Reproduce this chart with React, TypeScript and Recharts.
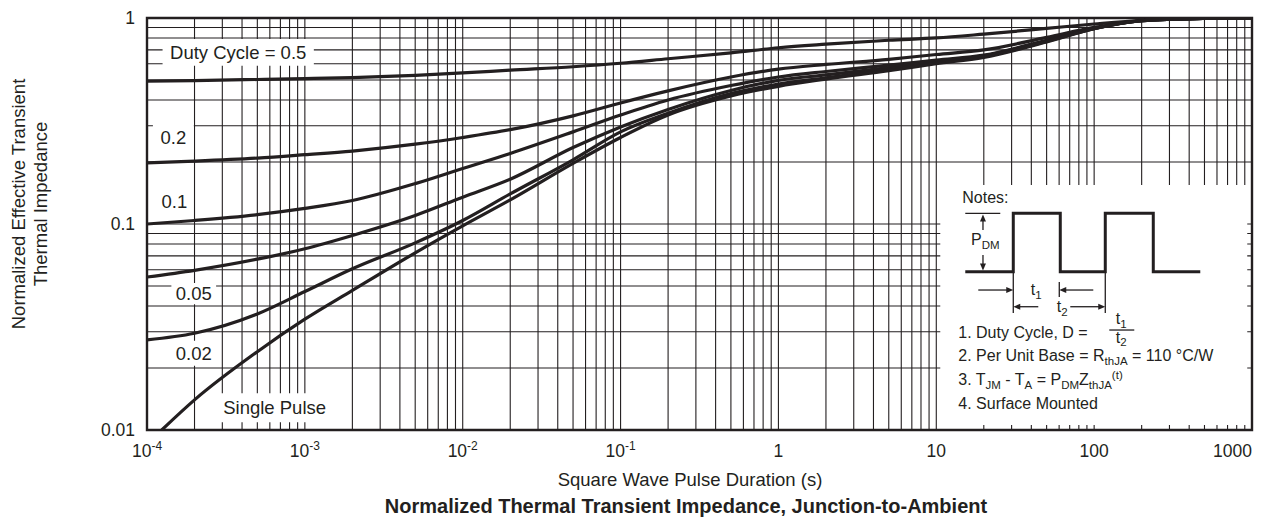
import React from "react";
import { LineChart, Line, XAxis, YAxis, CartesianGrid, ReferenceArea } from "recharts";

const INK = "#231f20";
const FONT = "'Liberation Sans', Arial, Helvetica, sans-serif";

// pulse durations (s) read for the duty-cycle curves
const pulseTimes = [1e-4, 2e-4, 5e-4, 1e-3, 2e-3, 5e-3, 1e-2, 2e-2, 5e-2, 0.1, 0.2, 0.5, 1, 2, 5, 10, 20, 50, 100, 200, 500, 1000];

const zD50 = [0.494, 0.497, 0.503, 0.508, 0.514, 0.527, 0.541, 0.558, 0.58, 0.603, 0.634, 0.677, 0.717, 0.746, 0.78, 0.8, 0.835, 0.89, 0.935, 0.975, 0.995, 1.0];
const zD20 = [0.198, 0.202, 0.209, 0.217, 0.226, 0.244, 0.263, 0.287, 0.335, 0.387, 0.443, 0.517, 0.565, 0.595, 0.63, 0.665, 0.7, 0.805, 0.9, 0.97, 0.995, 1.0];
const zD10 = [0.1, 0.104, 0.111, 0.119, 0.13, 0.157, 0.186, 0.22, 0.28, 0.338, 0.4, 0.47, 0.517, 0.55, 0.59, 0.625, 0.66, 0.78, 0.89, 0.97, 0.995, 1.0];
const zD05 = [0.0553, 0.0596, 0.0675, 0.0758, 0.088, 0.11, 0.135, 0.165, 0.235, 0.296, 0.36, 0.445, 0.498, 0.53, 0.575, 0.615, 0.655, 0.775, 0.89, 0.97, 0.995, 1.0];
const zD02 = [0.0274, 0.0295, 0.0366, 0.047, 0.0606, 0.081, 0.104, 0.14, 0.205, 0.28, 0.345, 0.43, 0.478, 0.512, 0.563, 0.608, 0.65, 0.77, 0.888, 0.97, 0.995, 1.0];

// the single pulse curve enters the plot just right of 1e-4
const singleTimes = [1.24e-4, 2e-4, 5e-4, 1e-3, 2e-3, 5e-3, 1e-2, 2e-2, 5e-2, 0.1, 0.2, 0.5, 1, 2, 5, 10, 20, 50, 100, 200, 500, 1000];
const zSingle = [0.01, 0.014, 0.024, 0.0345, 0.0476, 0.0725, 0.098, 0.131, 0.197, 0.263, 0.338, 0.418, 0.466, 0.505, 0.555, 0.6, 0.644, 0.765, 0.887, 0.97, 0.995, 1.0];

const curveNames = ["Duty Cycle = 0.5", "0.2", "0.1", "0.05", "0.02", "Single Pulse"];

const xDecades = [1e-4, 1e-3, 1e-2, 1e-1, 1, 10, 100, 1000];
const xDecadeText = [["10", "-4"], ["10", "-3"], ["10", "-2"], ["10", "-1"], ["1", ""], ["10", ""], ["100", ""], ["1000", ""]];
const yDecades = [0.01, 0.1, 1];
const yDecadeText = ["0.01", "0.1", "1"];

// log grid: 1..9 in every decade
const xTicks: number[] = [];
for (let e = -4; e < 3; e++) for (let m = 1; m < 10; m++) xTicks.push(m * Math.pow(10, e));
xTicks.push(1000);
const yTicks: number[] = [];
for (let e = -2; e < 0; e++) for (let m = 1; m < 10; m++) yTicks.push(m * Math.pow(10, e));
yTicks.push(1);

const toRows = (ts: number[], zs: number[]) => ts.map((t, i) => ({ t, z: zs[i] }));
const series = [
  toRows(pulseTimes, zD50),
  toRows(pulseTimes, zD20),
  toRows(pulseTimes, zD10),
  toRows(pulseTimes, zD05),
  toRows(pulseTimes, zD02),
  toRows(singleTimes, zSingle),
];

const near = (a: number, b: number) => Math.abs(a - b) / b < 1e-6;

function XTick({ x, y, payload }: any) {
  const i = xDecades.findIndex(d => near(payload.value, d));
  if (i < 0) return <g />;
  const [base, exp] = xDecadeText[i];
  const last = i === xDecades.length - 1;
  return (
    <text x={x} y={y + 27} textAnchor={last ? "end" : "middle"} fontSize={17.5} fill={INK}>
      {base}
      {exp ? <tspan dy={-7} fontSize={12}>{exp}</tspan> : null}
    </text>
  );
}

function YTick({ x, y, payload }: any) {
  const i = yDecades.findIndex(d => near(payload.value, d));
  if (i < 0) return <g />;
  return (
    <text x={x} y={y} dy="0.36em" textAnchor="end" fontSize={17.5} fill={INK}>
      {yDecadeText[i]}
    </text>
  );
}

function XTitles() {
  return (
    <g fill={INK}>
      <text x={690} y={486} textAnchor="middle" fontSize={18.5}>Square Wave Pulse Duration (s)</text>
      <text x={686} y={513} textAnchor="middle" fontSize={20} fontWeight="bold">
        Normalized Thermal Transient Impedance, Junction-to-Ambient
      </text>
    </g>
  );
}

function YTitles() {
  return (
    <g fill={INK} fontSize={18.5}>
      <text transform="translate(18.5,204) rotate(-90)" textAnchor="middle" dominantBaseline="central">
        Normalized Effective Transient
      </text>
      <text transform="translate(40,204) rotate(-90)" textAnchor="middle" dominantBaseline="central">
        Thermal Impedance
      </text>
    </g>
  );
}

function Head({ x, y, dir }: { x: number; y: number; dir: "l" | "r" | "u" | "d" }) {
  const l = 7, w = 3;
  let pts = "";
  if (dir === "r") pts = `${x},${y} ${x - l},${y - w} ${x - l},${y + w}`;
  if (dir === "l") pts = `${x},${y} ${x + l},${y - w} ${x + l},${y + w}`;
  if (dir === "u") pts = `${x},${y} ${x - w},${y + l} ${x + w},${y + l}`;
  if (dir === "d") pts = `${x},${y} ${x - w},${y - l} ${x + w},${y - l}`;
  return <polygon points={pts} fill={INK} />;
}

function NotesContent(props: any) {
  const vb = props.viewBox && props.viewBox.x != null ? props.viewBox : { x: 940, y: 185 };
  const L = vb.x;
  const T = vb.y;
  const fs = 16;
  const sub = 11.5;
  const thin = { stroke: INK, strokeWidth: 1.3 };
  return (
    <g fill={INK} fontSize={fs}>
      <text x={L + 22} y={T + 18}>Notes:</text>
      <path
        d={`M${L + 25},${T + 86.7} H${L + 73} V${T + 28.3} H${L + 120} V${T + 86.7} H${L + 165} V${T + 28.3} H${L + 213} V${T + 86.7} H${L + 260}`}
        fill="none" stroke={INK} strokeWidth={3}
      />
      <line x1={L + 25} x2={L + 60} y1={T + 28.3} y2={T + 28.3} {...thin} />
      <line x1={L + 42.7} x2={L + 42.7} y1={T + 33} y2={T + 45} {...thin} />
      <Head x={L + 42.7} y={T + 29.5} dir="u" />
      <line x1={L + 42.7} x2={L + 42.7} y1={T + 70} y2={T + 82} {...thin} />
      <Head x={L + 42.7} y={T + 85.5} dir="d" />
      <text x={L + 45} y={T + 60} textAnchor="middle">
        P<tspan dy={4} fontSize={sub}>DM</tspan>
      </text>

      <line x1={L + 73} x2={L + 73} y1={T + 88} y2={T + 128} {...thin} />
      <line x1={L + 119} x2={L + 119} y1={T + 97} y2={T + 112} {...thin} />
      <line x1={L + 165} x2={L + 165} y1={T + 88} y2={T + 128} {...thin} />

      <line x1={L + 38} x2={L + 67} y1={T + 105} y2={T + 105} {...thin} />
      <Head x={L + 73} y={T + 105} dir="r" />
      <line x1={L + 125} x2={L + 153} y1={T + 105} y2={T + 105} {...thin} />
      <Head x={L + 119} y={T + 105} dir="l" />
      <text x={L + 96} y={T + 110} textAnchor="middle">
        t<tspan dy={4} fontSize={sub}>1</tspan>
      </text>

      <line x1={L + 79} x2={L + 98} y1={T + 121.7} y2={T + 121.7} {...thin} />
      <Head x={L + 73} y={T + 121.7} dir="l" />
      <line x1={L + 130} x2={L + 159} y1={T + 121.7} y2={T + 121.7} {...thin} />
      <Head x={L + 165} y={T + 121.7} dir="r" />
      <text x={L + 122} y={T + 127} textAnchor="middle">
        t<tspan dy={4} fontSize={sub}>2</tspan>
      </text>

      <text x={L + 18} y={T + 153}>1. Duty Cycle, D =</text>
      <text x={L + 181} y={T + 139} textAnchor="middle">
        t<tspan dy={4} fontSize={sub}>1</tspan>
      </text>
      <line x1={L + 169} x2={L + 194} y1={T + 145} y2={T + 145} {...thin} />
      <text x={L + 181} y={T + 158} textAnchor="middle">
        t<tspan dy={3} fontSize={sub}>2</tspan>
      </text>

      <text x={L + 18} y={T + 176}>
        2. Per Unit Base = R<tspan dy={4} fontSize={sub}>thJA</tspan>
        <tspan dy={-4}> = 110 °C/W</tspan>
      </text>
      <text x={L + 18} y={T + 200}>
        3. T<tspan dy={4} fontSize={sub}>JM</tspan>
        <tspan dy={-4}> - T</tspan>
        <tspan dy={4} fontSize={sub}>A</tspan>
        <tspan dy={-4}> = P</tspan>
        <tspan dy={4} fontSize={sub}>DM</tspan>
        <tspan dy={-4}>Z</tspan>
        <tspan dy={4} fontSize={sub}>thJA</tspan>
        <tspan dy={-10} fontSize={sub}>(t)</tspan>
      </text>
      <text x={L + 18} y={T + 224}>4. Surface Mounted</text>
    </g>
  );
}

const labelStyle = { position: "center" as const, fill: INK, fontSize: 18.5 };

export default function App() {
  return (
    <div style={{ position: "absolute", left: 0, top: 0, fontFamily: FONT, background: "#fff" }}>
      <LineChart width={1264} height={519} margin={{ top: 18, right: 12, bottom: 0, left: 0 }}>
        <CartesianGrid stroke={INK} strokeWidth={1.1} />
        <XAxis
          dataKey="t" type="number" scale="log" domain={[1e-4, 1000]} allowDataOverflow
          ticks={xTicks} interval={0} height={89} tickSize={0} tickMargin={0}
          axisLine={false} tickLine={false} tick={<XTick />} label={<XTitles />}
        />
        <YAxis
          type="number" scale="log" domain={[0.01, 1]} allowDataOverflow
          ticks={yTicks} interval={0} width={147} tickSize={0} tickMargin={12}
          axisLine={false} tickLine={false} tick={<YTick />} label={<YTitles />}
        />

        <ReferenceArea x1={1.255e-4} x2={1.14e-3} y1={0.587} y2={0.79} fill="#fff" fillOpacity={1} stroke="none"
          label={{ ...labelStyle, value: curveNames[0] }} />
        <ReferenceArea x1={1.09e-4} x2={1.98e-4} y1={0.222} y2={0.314} fill="#fff" fillOpacity={1} stroke="none"
          label={{ ...labelStyle, value: curveNames[1] }} />
        <ReferenceArea x1={1.17e-4} x2={1.9e-4} y1={0.118} y2={0.141} fill="#fff" fillOpacity={1} stroke="none"
          label={{ ...labelStyle, value: curveNames[2] }} />
        <ReferenceArea x1={1.427e-4} x2={2.74e-4} y1={0.0408} y2={0.0517} fill="#fff" fillOpacity={1} stroke="none"
          label={{ ...labelStyle, value: curveNames[3] }} />
        <ReferenceArea x1={1.427e-4} x2={2.74e-4} y1={0.0205} y2={0.0271} fill="#fff" fillOpacity={1} stroke="none"
          label={{ ...labelStyle, value: curveNames[4] }} />
        <ReferenceArea x1={2.82e-4} x2={1.468e-3} y1={0.0109} y2={0.0151} fill="#fff" fillOpacity={1} stroke="none"
          label={{ ...labelStyle, value: curveNames[5] }} />

        <ReferenceArea x1={10.6} x2={933} y1={0.01058} y2={0.1546} fill="#fff" fillOpacity={1} stroke="none"
          label={<NotesContent />} />

        {series.map((rows, i) => (
          <Line
            key={curveNames[i]} data={rows} dataKey="z" type="monotone"
            stroke={INK} strokeWidth={3.2} dot={false} activeDot={false}
            isAnimationActive={false}
          />
        ))}

        <ReferenceArea x1={1e-4} x2={1000} y1={0.01} y2={1} fill="none" stroke={INK} strokeWidth={2.4} />
      </LineChart>
    </div>
  );
}
